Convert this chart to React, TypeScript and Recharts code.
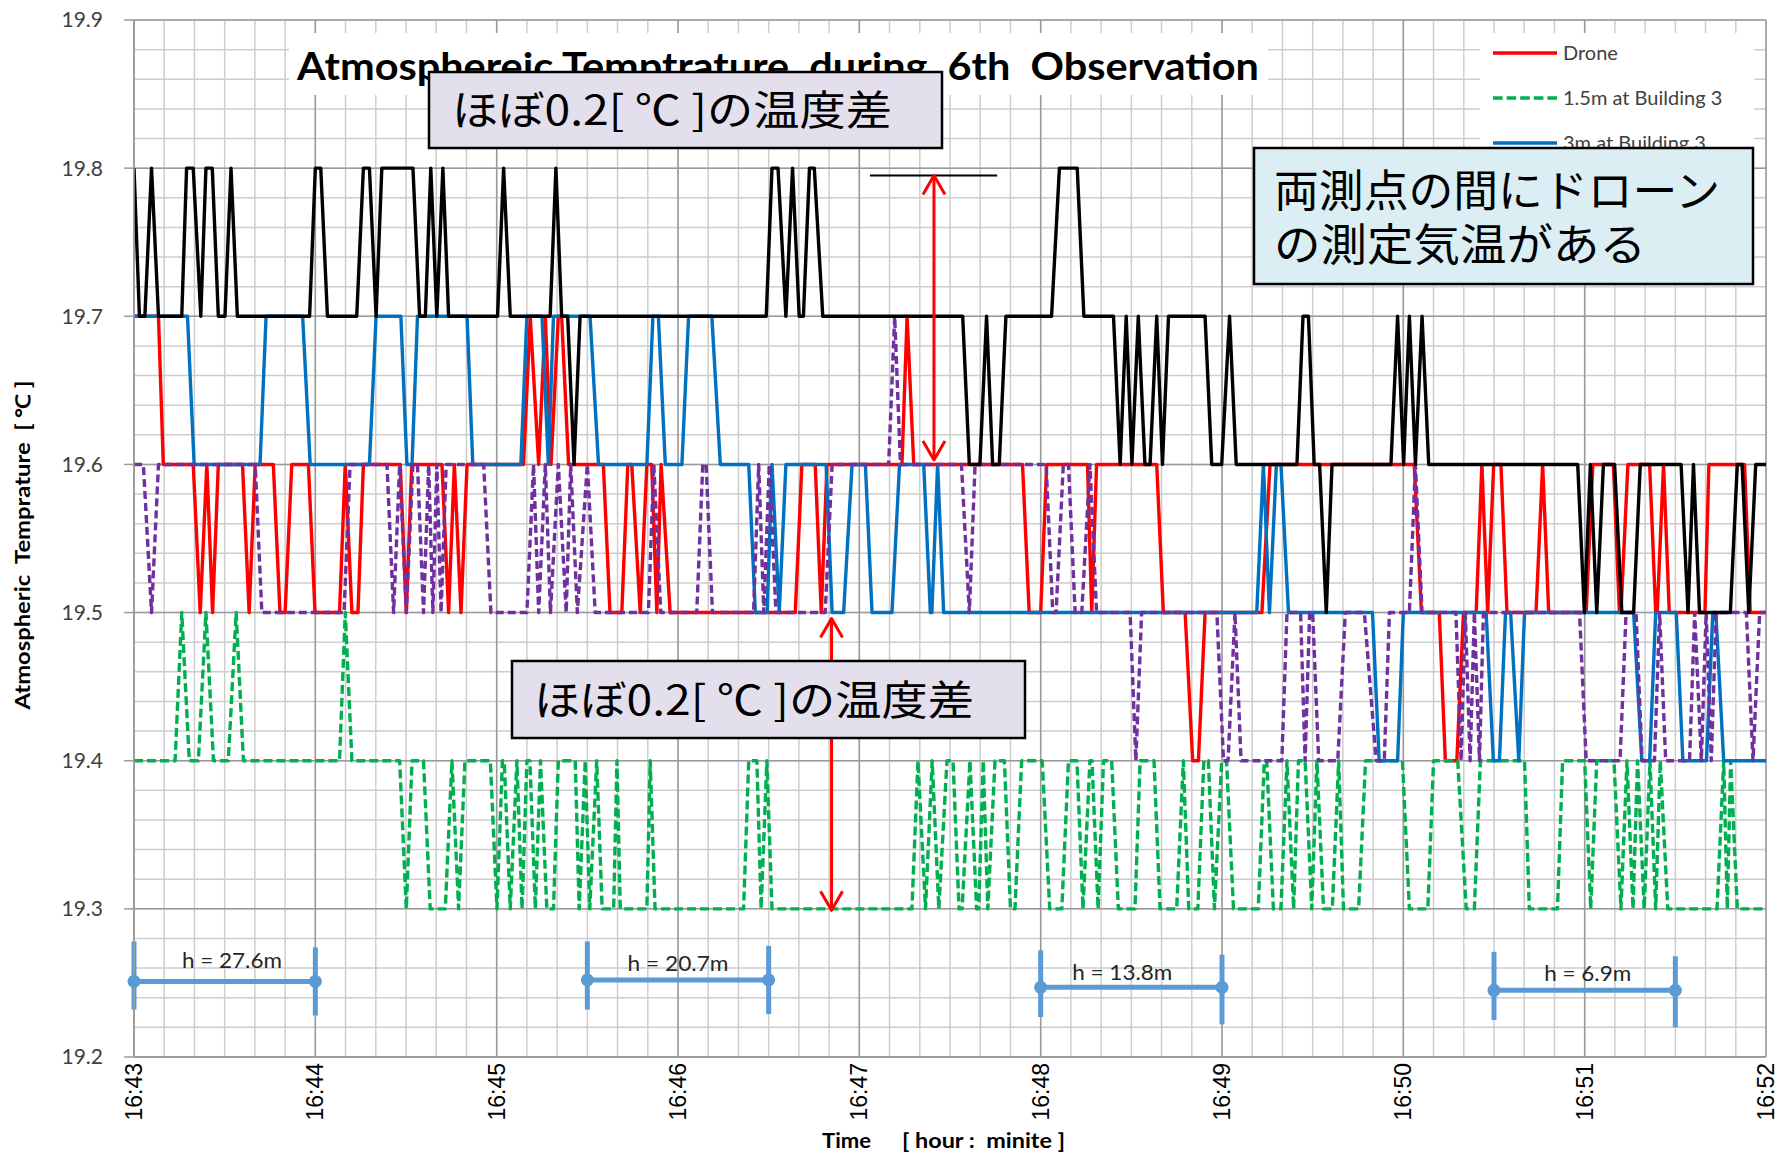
import React from "react";
import {
  LineChart,
  Line,
  XAxis,
  YAxis,
  CartesianGrid,
  ReferenceLine,
  ReferenceDot,
} from "recharts";

// each run: [from (s after 16:43:00), to (s), temperature °C]
type Run = [number, number, number];

const xTicks = [0, 60, 120, 180, 240, 300, 360, 420, 480, 540];
const xTickLabels = ["16:43", "16:44", "16:45", "16:46", "16:47", "16:48", "16:49", "16:50", "16:51", "16:52"];
const yTicks = [19.2, 19.3, 19.4, 19.5, 19.6, 19.7, 19.8, 19.9];

const droneRuns: Run[] = [
  [0, 8.1, 19.7], [9.7, 19.6, 19.6], [21.9, 21.9, 19.5], [24.1, 24.1, 19.6], [26, 26, 19.5],
  [27.9, 35.9, 19.6], [38.1, 38.1, 19.5], [40.1, 46.1, 19.6], [48.3, 50, 19.5], [52.2, 57.7, 19.6],
  [59.9, 68, 19.5], [69.9, 69.9, 19.6], [72.1, 74.1, 19.5], [75.9, 88.1, 19.6], [90.1, 90.1, 19.5],
  [91.9, 101.9, 19.6], [104.1, 104.1, 19.5], [106, 106, 19.6], [108.2, 108.2, 19.5], [110.2, 128.9, 19.6],
  [131.1, 131.1, 19.7], [133.9, 133.9, 19.6], [136.1, 136.1, 19.7], [138, 138, 19.6], [140.4, 141.5, 19.7],
  [143.8, 155.3, 19.6], [157.5, 161.4, 19.5], [163.4, 164.7, 19.6], [167.5, 167.5, 19.5], [169.7, 171.3, 19.6],
  [173, 173, 19.5], [174.4, 174.4, 19.6], [177.4, 218.8, 19.5], [221, 225.4, 19.6], [227.4, 227.4, 19.5],
  [229.3, 254.1, 19.6], [255.8, 255.8, 19.7], [258, 294, 19.6], [296.2, 300, 19.5], [302, 315.5, 19.6],
  [316.9, 316.9, 19.5], [318.5, 338.4, 19.6], [340.6, 347.8, 19.5], [350.3, 352.2, 19.4], [354.4, 373.2, 19.5],
  [375.9, 423.6, 19.6], [426, 431.9, 19.5], [433.9, 437.7, 19.4], [439.9, 444.1, 19.5], [446, 446, 19.6],
  [447.9, 447.9, 19.5], [449.9, 452.3, 19.6], [454.3, 463.9, 19.5], [466.1, 466.1, 19.6], [468.1, 480.5, 19.5],
  [482.7, 489.5, 19.6], [491.5, 492, 19.5], [494.3, 501.5, 19.6], [503.5, 504, 19.5], [506.1, 506.1, 19.6],
  [508, 519.8, 19.5], [521.1, 532.9, 19.6], [534.8, 540, 19.5],
];

const b15Runs: Run[] = [
  [0, 13.6, 19.4], [15.8, 15.8, 19.5], [18.3, 21.3, 19.4], [23.8, 23.8, 19.5], [26.3, 31.2, 19.4],
  [33.8, 33.8, 19.5], [36.2, 68, 19.4], [69.9, 69.9, 19.5], [72.1, 87.9, 19.4], [90.1, 90.1, 19.3],
  [92, 95.8, 19.4], [98, 103, 19.3], [105.2, 105.2, 19.4], [107.4, 107.4, 19.3], [109.5, 117.9, 19.4],
  [120.1, 120.1, 19.3], [121.9, 122.5, 19.4], [124.5, 124.5, 19.3], [126.7, 126.7, 19.4], [128.4, 128.4, 19.3],
  [130, 131, 19.4], [132.8, 132.8, 19.3], [134.5, 134.5, 19.4], [136.6, 138.8, 19.3], [140.4, 146, 19.4],
  [147.3, 147.3, 19.3], [149.3, 149.3, 19.4], [150.8, 150.8, 19.3], [153.1, 153.1, 19.4], [154.9, 158.7, 19.3],
  [159.8, 159.8, 19.4], [160.9, 169.7, 19.3], [170.8, 170.8, 19.4], [172.4, 201.7, 19.3], [203.4, 206.1, 19.4],
  [207.5, 207.5, 19.3], [209.4, 209.4, 19.4], [211.1, 257.4, 19.3], [259.4, 259.4, 19.4], [261.9, 261.9, 19.3],
  [264.1, 264.1, 19.4], [266.3, 266.3, 19.3], [269, 271, 19.4], [273, 274, 19.3], [276.6, 276.6, 19.4],
  [278.8, 279.5, 19.3], [281, 281, 19.4], [282.5, 282.5, 19.3], [284.9, 288, 19.4], [290, 291.5, 19.3],
  [293.7, 300.5, 19.4], [303, 307, 19.3], [309.2, 312, 19.4], [314, 314, 19.3], [316.3, 317, 19.4],
  [319, 319, 19.3], [320.8, 323.5, 19.4], [325.7, 331.2, 19.3], [332.9, 337.5, 19.4], [339.5, 345, 19.3],
  [347.2, 347.2, 19.4], [349, 352, 19.3], [354, 355.5, 19.4], [357.5, 357.5, 19.3], [359.9, 361.5, 19.4],
  [363.8, 372, 19.3], [374, 374.8, 19.4], [377, 379.5, 19.3], [381.5, 381.5, 19.4], [383.7, 383.7, 19.3],
  [385.3, 387.5, 19.4], [389.7, 389.7, 19.3], [391.4, 391.4, 19.4], [393.6, 396.5, 19.3], [398.6, 398.6, 19.4],
  [400.2, 405.2, 19.3], [407.5, 419.7, 19.4], [422, 428.1, 19.3], [430, 438, 19.4], [440.8, 443.5, 19.3],
  [445.5, 460.1, 19.4], [461.7, 471, 19.3], [472.7, 480, 19.4], [482, 482, 19.3], [484, 489.7, 19.4],
  [492, 492, 19.3], [494, 494, 19.4], [496, 496, 19.3], [497.5, 497.5, 19.4], [499.7, 499.7, 19.3],
  [501.6, 501.6, 19.4], [503.5, 503.5, 19.3], [505, 505, 19.4], [507.5, 523.8, 19.3], [526, 526, 19.4],
  [527.2, 527.2, 19.3], [528.3, 528.3, 19.4], [530.5, 540, 19.3],
];

const b3Runs: Run[] = [
  [0, 17.7, 19.7], [19.9, 41.7, 19.6], [43.7, 55.8, 19.7], [58.3, 77.9, 19.6], [80.1, 88.3, 19.7],
  [90.3, 92, 19.6], [93.8, 110.2, 19.7], [112.1, 128, 19.6], [130, 135, 19.7], [137.1, 137.1, 19.6],
  [138.8, 150.9, 19.7], [153.7, 169.7, 19.6], [171.7, 173.5, 19.7], [175.8, 181.3, 19.6], [183.5, 191.2, 19.7],
  [194, 203.4, 19.6], [205.6, 209.5, 19.5], [211.1, 211.1, 19.6], [213.5, 213.5, 19.5], [215.7, 229, 19.6],
  [231, 234.8, 19.5], [237.6, 242, 19.6], [244.2, 250.8, 19.5], [253.3, 261.3, 19.6], [263.5, 264, 19.5],
  [265.9, 265.9, 19.6], [267.9, 371.5, 19.5], [373.7, 373.7, 19.6], [375.7, 375.7, 19.5], [378, 379.5, 19.6],
  [382, 409.8, 19.5], [412, 418.1, 19.4], [420, 447.4, 19.5], [449.8, 451.8, 19.4], [453.8, 455.5, 19.5],
  [458.2, 458.2, 19.4], [460.1, 496.2, 19.5], [498.9, 501.5, 19.4], [503.5, 510.3, 19.5], [512.5, 520.3, 19.4],
  [522.4, 523.4, 19.5], [526, 540, 19.4],
];

const purpleRuns: Run[] = [
  [0, 3.1, 19.6], [5.8, 5.8, 19.5], [8.1, 40.1, 19.6], [42.3, 69.5, 19.5], [71.5, 83.7, 19.6],
  [85.9, 85.9, 19.5], [87.9, 87.9, 19.6], [90.1, 90.1, 19.5], [92.3, 93.8, 19.6], [95.8, 95.8, 19.5],
  [97.5, 97.5, 19.6], [98.9, 98.9, 19.5], [100.2, 100.2, 19.6], [101.6, 101.6, 19.5], [103.3, 115.7, 19.6],
  [118.1, 130, 19.5], [132.2, 132.2, 19.6], [133.9, 133.9, 19.5], [136.1, 136.1, 19.6], [137.8, 137.8, 19.5],
  [140.4, 140.4, 19.6], [143, 143, 19.5], [144.5, 144.5, 19.6], [146.7, 146.7, 19.5], [150, 150, 19.6],
  [152.6, 170.2, 19.5], [172, 172, 19.6], [174.3, 186.2, 19.5], [188.2, 189.3, 19.6], [191.4, 205, 19.5],
  [206.7, 206.7, 19.6], [208.4, 208.4, 19.5], [210.2, 210.2, 19.6], [212.4, 228.7, 19.5], [231, 249.7, 19.6],
  [251.7, 251.7, 19.7], [253.6, 273.8, 19.6], [276.4, 276.4, 19.5], [278.3, 301.8, 19.6], [304, 305.1, 19.5],
  [307.5, 309.2, 19.6], [311.4, 313.6, 19.5], [316.3, 316.3, 19.6], [318.5, 329.6, 19.5], [331.5, 331.5, 19.4],
  [333.4, 358.3, 19.5], [360.5, 362, 19.4], [364.3, 364.3, 19.5], [366.3, 379.8, 19.4], [381.5, 386, 19.5],
  [387.5, 387.5, 19.4], [389, 390, 19.5], [392, 398.3, 19.4], [400.8, 407.1, 19.5], [411, 413.7, 19.4],
  [415.4, 422, 19.5], [424, 424, 19.6], [426.2, 437.4, 19.5], [439.1, 439.1, 19.4], [440.5, 440.5, 19.5],
  [442.1, 442.1, 19.4], [443.5, 443.5, 19.5], [445.2, 445.2, 19.4], [446.5, 478.3, 19.5], [480.5, 491.7, 19.4],
  [493.7, 497, 19.5], [499, 503.1, 19.4], [504.8, 504.8, 19.5], [506.8, 514.7, 19.4], [516.4, 516.4, 19.5],
  [518.6, 518.6, 19.4], [520.2, 520.2, 19.5], [521.9, 521.9, 19.4], [523.5, 533.5, 19.5], [535.7, 535.7, 19.4],
  [537.9, 540, 19.5],
];

const blackRuns: Run[] = [
  [0, 0, 19.8], [1.8, 3.6, 19.7], [5.8, 5.8, 19.8], [8.1, 15.8, 19.7], [17.4, 19.6, 19.8],
  [22.1, 22.1, 19.7], [23.8, 25.9, 19.8], [27.9, 30.1, 19.7], [32.1, 32.1, 19.8], [34.2, 58.1, 19.7],
  [60, 61.8, 19.8], [64, 73.7, 19.7], [75.9, 77.9, 19.8], [80.1, 80.1, 19.7], [82, 92.3, 19.8],
  [94.5, 96.4, 19.7], [98.2, 98.2, 19.8], [100.2, 100.2, 19.7], [102.2, 102.2, 19.8], [104.1, 120.3, 19.7],
  [122.3, 122.3, 19.8], [124.5, 137.7, 19.7], [139.6, 139.6, 19.8], [141.5, 143.5, 19.7], [145.6, 145.6, 19.6],
  [147.6, 209.2, 19.7], [211.1, 213.1, 19.8], [215.7, 215.7, 19.7], [217.9, 217.9, 19.8], [220.1, 221.5, 19.7],
  [223.5, 225.1, 19.8], [227.9, 274.2, 19.7], [276.4, 279.9, 19.6], [282.1, 282.1, 19.7], [284.1, 286.3, 19.6],
  [288.5, 303.6, 19.7], [306.2, 312.1, 19.8], [314.3, 324.1, 19.7], [326.3, 326.3, 19.6], [328.3, 328.3, 19.7],
  [330.2, 330.2, 19.6], [332.3, 332.3, 19.7], [334.5, 336.2, 19.6], [338.4, 338.4, 19.7], [340.3, 340.3, 19.6],
  [342.3, 354.4, 19.7], [356.6, 359.9, 19.6], [362.5, 362.5, 19.7], [364.7, 384.8, 19.6], [386.8, 388.6, 19.7],
  [390.5, 392.3, 19.6], [394.5, 394.5, 19.5], [396.4, 415.9, 19.6], [418.1, 418.1, 19.7], [420.1, 420.1, 19.6],
  [422, 422, 19.7], [424, 424, 19.6], [426.2, 426.2, 19.7], [428.4, 477.7, 19.6], [479.9, 479.9, 19.5],
  [481.9, 481.9, 19.6], [484, 484, 19.5], [486.2, 489.9, 19.6], [492.3, 496.2, 19.5], [498.4, 511.9, 19.6],
  [514.2, 514.2, 19.5], [516, 516, 19.6], [518, 528.2, 19.5], [530.5, 532.1, 19.6], [534.3, 534.3, 19.5],
  [536.6, 540, 19.6],
];

// flight height spans drawn under the traces
const heightSpans = [
  { label: "h = 27.6m", from: 0, to: 60, level: 19.251, capL: [19.232, 19.278], capR: [19.228, 19.274], labelAt: 32.4, labelLevel: 19.265 },
  { label: "h = 20.7m", from: 150, to: 210, level: 19.252, capL: [19.232, 19.278], capR: [19.229, 19.275], labelAt: 180, labelLevel: 19.263 },
  { label: "h = 13.8m", from: 300, to: 360, level: 19.247, capL: [19.227, 19.272], capR: [19.222, 19.269], labelAt: 327, labelLevel: 19.257 },
  { label: "h = 6.9m", from: 450, to: 510, level: 19.245, capL: [19.225, 19.271], capR: [19.22, 19.268], labelAt: 481, labelLevel: 19.256 },
];
const spanLabelWidth = [100, 101, 100, 87];

// double arrows: [time, lower °C, upper °C]
const arrows = [
  [264.7, 19.603, 19.795],
  [230.8, 19.299, 19.496],
];
const topMarker = { from: 243.5, to: 285.6, level: 19.795 };

const minorX = Array.from({ length: 55 }, (_, i) => i * 10);
const minorY = Array.from({ length: 36 }, (_, i) => Math.round((19.2 + i * 0.02) * 100) / 100);

const toPoints = (runs: Run[]) =>
  runs.flatMap(([a, b, v]) => (a === b ? [{ t: a, v }] : [{ t: a, v }, { t: b, v }]));

const series = [
  { key: "drone", runs: droneRuns, color: "#FF0000", dash: undefined as string | undefined },
  { key: "b15", runs: b15Runs, color: "#00B050", dash: "9 4" },
  { key: "b3", runs: b3Runs, color: "#0070C0", dash: undefined },
  { key: "purple", runs: purpleRuns, color: "#7030A0", dash: "8 4" },
  { key: "black", runs: blackRuns, color: "#000000", dash: undefined },
];

const W = 1779;
const H = 1153;
const LATO = "Lato, 'Open Sans', sans-serif";
const JP = "'Noto Sans CJK JP', sans-serif";

const XTick = (props: any) => {
  const { x, y, payload } = props;
  const label = xTickLabels[xTicks.indexOf(payload.value)];
  return (
    <text
      x={x}
      y={y}
      transform={`rotate(-90 ${x} ${y})`}
      textAnchor="end"
      dy="0.35em"
      fontFamily="'Liberation Sans', Arial, sans-serif"
      fontSize={23}
      fill="#000"
    >
      {label}
    </text>
  );
};

const DoubleArrow = (p: any) => {
  const { x1, y1, x2, y2 } = p;
  const len = Math.hypot(x2 - x1, y2 - y1) || 1;
  const ux = (x2 - x1) / len;
  const uy = (y2 - y1) / len;
  const head = (tx: number, ty: number, dx: number, dy: number) => {
    const px = -dy;
    const py = dx;
    return `${tx + dx * 19 + px * 11},${ty + dy * 19 + py * 11} ${tx},${ty} ${tx + dx * 19 - px * 11},${ty + dy * 19 - py * 11}`;
  };
  return (
    <g stroke="#FF0000" strokeWidth={3} fill="none" strokeLinejoin="round">
      <line x1={x1} y1={y1} x2={x2} y2={y2} />
      <polyline points={head(x1, y1, ux, uy)} />
      <polyline points={head(x2, y2, -ux, -uy)} />
    </g>
  );
};

export default function App() {
  return (
    <div style={{ position: "absolute", left: 0, top: 0, width: W, height: H, background: "#fff", fontFamily: LATO }}>
      <LineChart width={W} height={H} margin={{ top: 20, right: 13, bottom: 0, left: 0 }}>
        <CartesianGrid verticalValues={minorX} horizontalValues={minorY} stroke="#CDCDCD" strokeWidth={1.5} />
        <CartesianGrid stroke="#9A9A9A" strokeWidth={1.5} />
        <XAxis
          dataKey="t"
          type="number"
          domain={[0, 540]}
          ticks={xTicks}
          allowDataOverflow
          height={96}
          tickSize={0}
          tickMargin={6}
          tickLine={false}
          axisLine={{ stroke: "#9A9A9A", strokeWidth: 1.5 }}
          tick={<XTick />}
          interval={0}
        />
        <YAxis
          type="number"
          domain={[19.2, 19.9]}
          ticks={yTicks}
          allowDataOverflow
          width={134}
          tickSize={10}
          tickMargin={21}
          tickLine={{ stroke: "#9A9A9A", strokeWidth: 1.5 }}
          axisLine={{ stroke: "#9A9A9A", strokeWidth: 1.5 }}
          tickFormatter={(v: number) => v.toFixed(1)}
          tick={{ fill: "#404040", fontSize: 21, fontFamily: LATO }}
          interval={0}
        />

        {heightSpans.map((s, i) => (
          <ReferenceLine
            key={`h-${i}`}
            segment={[{ x: s.from, y: s.level }, { x: s.to, y: s.level }]}
            stroke="#5B9BD5"
            strokeWidth={5}
          />
        ))}
        {heightSpans.map((s, i) => (
          <ReferenceLine
            key={`cl-${i}`}
            segment={[{ x: s.from, y: s.capL[0] }, { x: s.from, y: s.capL[1] }]}
            stroke="#5B9BD5"
            strokeWidth={5}
          />
        ))}
        {heightSpans.map((s, i) => (
          <ReferenceLine
            key={`cr-${i}`}
            segment={[{ x: s.to, y: s.capR[0] }, { x: s.to, y: s.capR[1] }]}
            stroke="#5B9BD5"
            strokeWidth={5}
          />
        ))}
        {heightSpans.flatMap((s, i) => [
          <ReferenceDot key={`dl-${i}`} x={s.from} y={s.level} r={6.5} fill="#5B9BD5" stroke="none" />,
          <ReferenceDot key={`dr-${i}`} x={s.to} y={s.level} r={6.5} fill="#5B9BD5" stroke="none" />,
        ])}
        {heightSpans.map((s, i) => (
          <ReferenceDot
            key={`lb-${i}`}
            x={s.labelAt}
            y={s.labelLevel}
            r={0}
            shape={(p: any) => (
              <text
                x={p.cx}
                y={p.cy}
                dy="0.35em"
                textAnchor="middle"
                fontFamily={LATO}
                fontSize={21}
                fill="#262626"
                textLength={spanLabelWidth[i]}
                lengthAdjust="spacingAndGlyphs"
              >
                {s.label}
              </text>
            )}
          />
        ))}

        {series.map((s) => (
          <Line
            key={s.key}
            data={toPoints(s.runs)}
            dataKey="v"
            type="linear"
            stroke={s.color}
            strokeWidth={3.4}
            strokeDasharray={s.dash}
            strokeLinejoin="round"
            dot={false}
            activeDot={false}
            isAnimationActive={false}
          />
        ))}

        <ReferenceLine
          segment={[{ x: topMarker.from, y: topMarker.level }, { x: topMarker.to, y: topMarker.level }]}
          stroke="#000"
          strokeWidth={2}
        />
        {arrows.map(([t, lo, hi], i) => (
          <ReferenceLine
            key={`ar-${i}`}
            segment={[{ x: t, y: lo }, { x: t, y: hi }]}
            shape={(p: any) => <DoubleArrow {...p} />}
          />
        ))}
      </LineChart>

      <svg width={W} height={H} style={{ position: "absolute", left: 0, top: 0, pointerEvents: "none" }}>
        {/* title */}
        <rect x={289} y={33} width={979} height={62} fill="#fff" />
        <text
          x={297}
          y={80}
          fontFamily={LATO}
          fontWeight={700}
          fontSize={38}
          fill="#000"
          textLength={962}
          lengthAdjust="spacingAndGlyphs"
          style={{ whiteSpace: "pre" }}
        >
          {"Atmosphereic Temptrature  during  6th  Observation"}
        </text>

        {/* legend */}
        <rect x={1480} y={33} width={274} height={120} fill="#fff" />
        <line x1={1493} y1={53} x2={1557} y2={53} stroke="#FF0000" strokeWidth={3.4} />
        <text x={1563} y={60} fontFamily={LATO} fontSize={20} fill="#404040">Drone</text>
        <line x1={1493} y1={98} x2={1557} y2={98} stroke="#00B050" strokeWidth={3.4} strokeDasharray="9.6 4" />
        <text x={1563} y={105} fontFamily={LATO} fontSize={20} fill="#404040">1.5m at Building 3</text>
        <line x1={1493} y1={143} x2={1557} y2={143} stroke="#0070C0" strokeWidth={3.4} />
        <text x={1563} y={150} fontFamily={LATO} fontSize={20} fill="#404040">3m at Building 3</text>

        {/* callouts */}
        <rect x={429} y={72} width={513} height={76} fill="#E4DFEC" stroke="#000" strokeWidth={2.5} />
        <text x={452} y={125} fontFamily={JP} fontSize={41} fill="#000" textLength={440} lengthAdjust="spacingAndGlyphs" style={{ whiteSpace: "pre" }}>
          {"ほぼ0.2[ ℃ ]の温度差"}
        </text>
        <rect x={512} y={661} width={513} height={77} fill="#E4DFEC" stroke="#000" strokeWidth={2.5} />
        <text x={534} y={715} fontFamily={JP} fontSize={41} fill="#000" textLength={440} lengthAdjust="spacingAndGlyphs" style={{ whiteSpace: "pre" }}>
          {"ほぼ0.2[ ℃ ]の温度差"}
        </text>
        <rect x={1254} y={148} width={499} height={136} fill="#DAEEF3" stroke="#000" strokeWidth={2.5} />
        <text x={1274} y={207} fontFamily={JP} fontSize={44} fill="#000" textLength={446} lengthAdjust="spacingAndGlyphs">
          両測点の間にドローン
        </text>
        <text x={1274} y={261} fontFamily={JP} fontSize={44} fill="#000" textLength={372} lengthAdjust="spacingAndGlyphs">
          の測定気温がある
        </text>

        {/* axis titles */}
        <text
          transform="translate(30 545) rotate(-90)"
          textAnchor="middle"
          fontFamily={LATO}
          fontWeight={700}
          fontSize={20}
          fill="#000"
          textLength={329}
          lengthAdjust="spacingAndGlyphs"
          style={{ whiteSpace: "pre" }}
        >
          {"Atmospheric  Temprature  [ ℃ ]"}
        </text>
        <text x={822} y={1148} fontFamily={LATO} fontWeight={700} fontSize={21} fill="#000" textLength={49} lengthAdjust="spacingAndGlyphs">
          Time
        </text>
        <text x={902} y={1148} fontFamily={LATO} fontWeight={700} fontSize={21} fill="#000" textLength={163} lengthAdjust="spacingAndGlyphs" style={{ whiteSpace: "pre" }}>
          {"[ hour :  minite ]"}
        </text>
      </svg>
    </div>
  );
}
